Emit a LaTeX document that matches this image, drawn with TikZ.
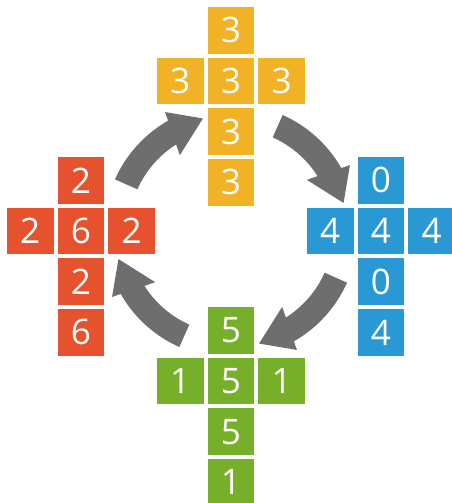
\documentclass[tikz,border=0pt]{standalone}
\usepackage{fontspec}
\setmainfont{Open Sans}
\usepackage{tikz}
\usetikzlibrary{positioning}
\definecolor{cubeyellow}{RGB}{242,178,38}
\definecolor{cubered}{RGB}{230,82,45}
\definecolor{cubeblue}{RGB}{43,152,214}
\definecolor{cubegreen}{RGB}{118,176,42}
\definecolor{turngray}{RGB}{110,110,110}
\tikzset{
  cell/.style={minimum size=0.93cm,inner sep=0pt,text=white,
               font=\fontsize{20}{24}\selectfont},
  ycell/.style={cell,fill=cubeyellow},
  rcell/.style={cell,fill=cubered},
  bcell/.style={cell,fill=cubeblue},
  gcell/.style={cell,fill=cubegreen}
}

\begin{document}
\begin{tikzpicture}[node distance=0.07cm]
  \useasboundingbox (0,0) rectangle (9.04,-10.06);
  % top net
  \node[ycell] (y0) at (4.62,-1.62) {3};
  \node[ycell,above=of y0] (yt) {3};
  \node[ycell,left=of y0] (yl) {3};
  \node[ycell,right=of y0] (yr) {3};
  \node[ycell,below=of y0] (yb) {3};
  \node[ycell,below=of yb] (ybb) {3};
  % left net
  \node[rcell] (r0) at (1.62,-4.62) {6};
  \node[rcell,above=of r0] (rt) {2};
  \node[rcell,left=of r0] (rl) {2};
  \node[rcell,right=of r0] (rr) {2};
  \node[rcell,below=of r0] (rb) {2};
  \node[rcell,below=of rb] (rbb) {6};
  % right net
  \node[bcell] (b0) at (7.62,-4.62) {4};
  \node[bcell,above=of b0] (bt) {0};
  \node[bcell,left=of b0] (bl) {4};
  \node[bcell,right=of b0] (br) {4};
  \node[bcell,below=of b0] (bb) {0};
  \node[bcell,below=of bb] (bbb) {4};
  % bottom net
  \node[gcell] (g0) at (4.62,-7.62) {5};
  \node[gcell,above=of g0] (gt) {5};
  \node[gcell,left=of g0] (gl) {1};
  \node[gcell,right=of g0] (gr) {1};
  \node[gcell,below=of g0] (gb) {5};
  \node[gcell,below=of gb] (gbb) {1};

  % turning arrows
  \coordinate (ctr) at (4.62,-4.62);
  \foreach \r in {0,90,180,270}
    \fill[turngray,shift={(ctr)},rotate=-\r]
      (156:2.54) arc[start angle=156,end angle=119.7,radius=2.54]
      -- (119:2.72) -- (104:2.32) -- (124:1.83)
      -- (122.4:2.05) arc[start angle=122.4,end angle=156,radius=2.05]
      -- cycle;
\end{tikzpicture}
\end{document}
